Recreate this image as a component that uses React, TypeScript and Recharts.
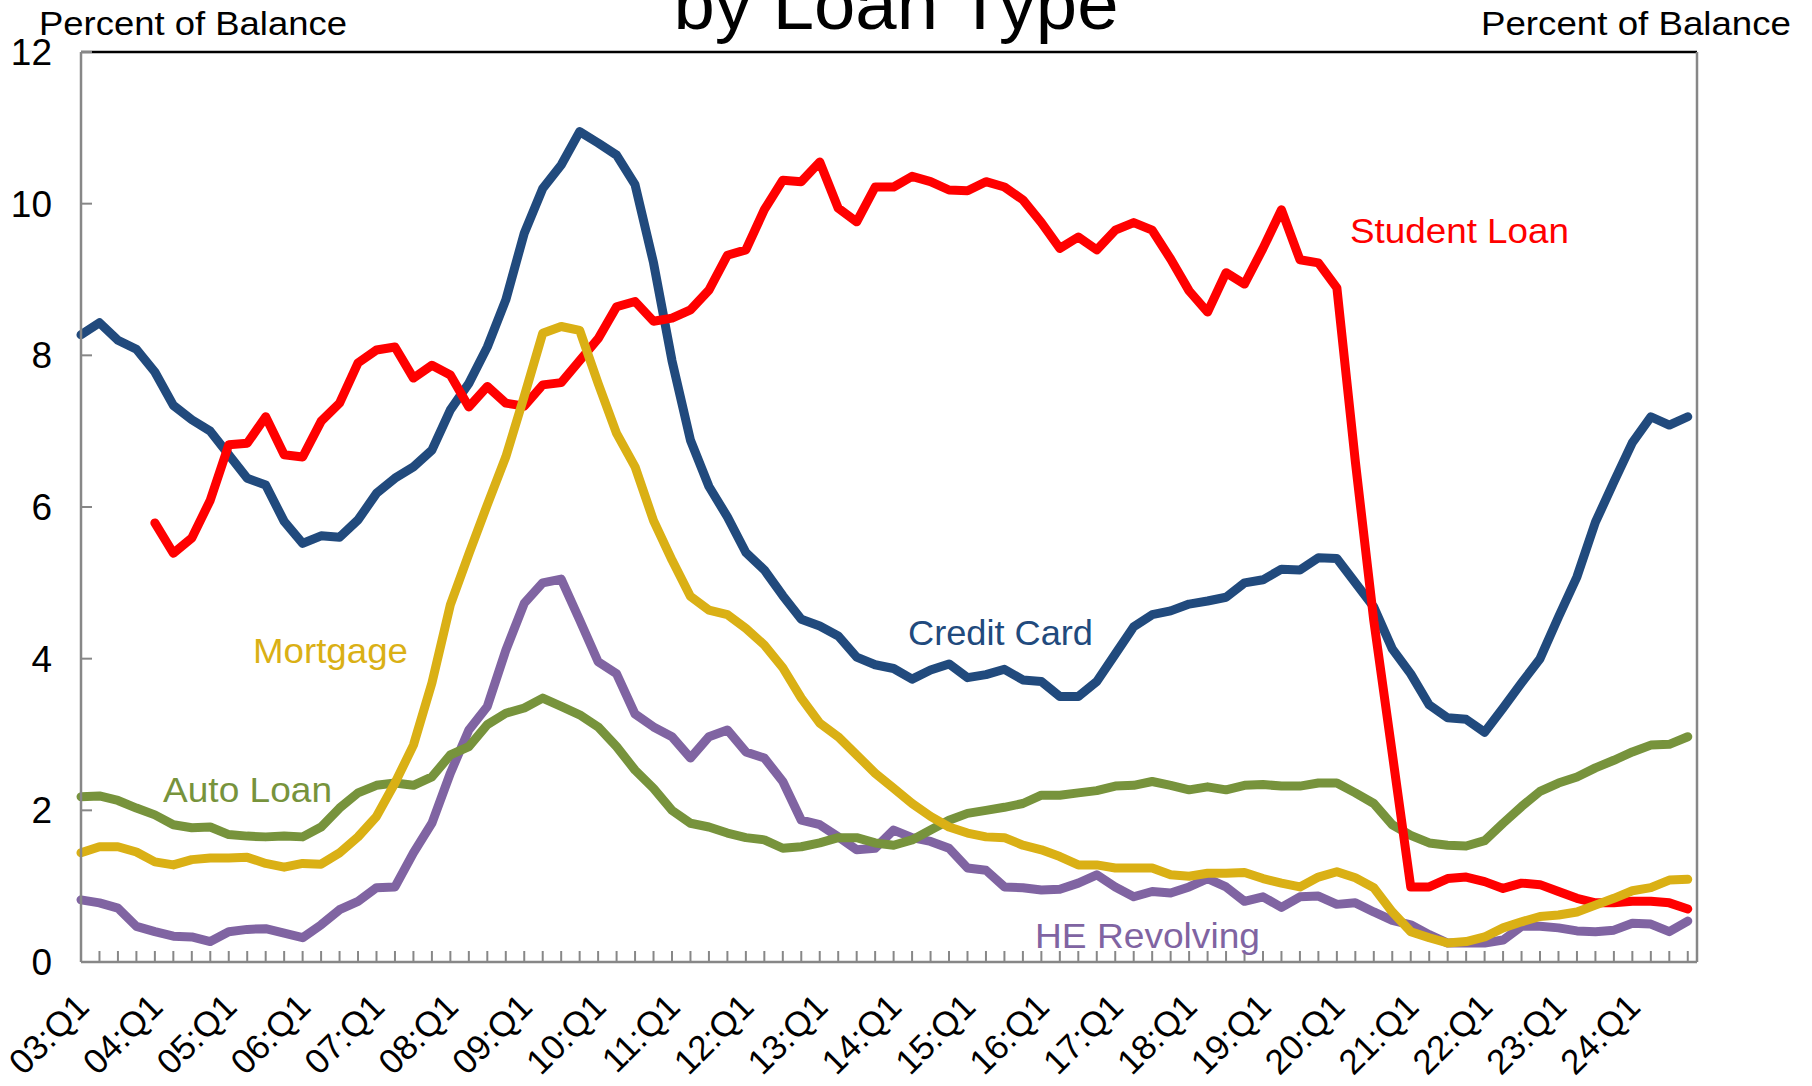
import React from 'react';
import { LineChart, Line, XAxis, YAxis, ReferenceLine } from 'recharts';

const W = 1812;
const H = 1086;
const PLOT_LEFT = 81;
const PLOT_RIGHT = 1697;
const PLOT_TOP = 52;
const PLOT_BOTTOM = 962;
const Y_AXIS_W = 60;
const X_AXIS_H = 100;
const FONT = '"Liberation Sans", Arial, Helvetica, sans-serif';
const AXIS_GRAY = '#878787';

const years = ['03', '04', '05', '06', '07', '08', '09', '10', '11', '12', '13', '14',
  '15', '16', '17', '18', '19', '20', '21', '22', '23', '24'];
const quarterLabels = years.flatMap((y) => [`${y}:Q1`, `${y}:Q2`, `${y}:Q3`, `${y}:Q4`]);

const creditCard = [
  8.27, 8.43, 8.2, 8.08, 7.78, 7.34, 7.15, 7.0, 6.69, 6.38,
  6.29, 5.81, 5.52, 5.62, 5.6, 5.83, 6.18, 6.38, 6.53, 6.75,
  7.28, 7.63, 8.11, 8.73, 9.61, 10.2, 10.51, 10.95, 10.8, 10.64,
  10.25, 9.22, 7.93, 6.88, 6.27, 5.87, 5.4, 5.17, 4.83, 4.52,
  4.43, 4.3, 4.02, 3.92, 3.87, 3.73, 3.85, 3.93, 3.75, 3.79,
  3.86, 3.72, 3.7, 3.5, 3.5, 3.7, 4.06, 4.42, 4.58, 4.63,
  4.72, 4.76, 4.81, 5.0, 5.04, 5.18, 5.17, 5.33, 5.32, 5.0,
  4.68, 4.13, 3.8, 3.39, 3.22, 3.2, 3.03, 3.35, 3.68, 4.0,
  4.55, 5.08, 5.8, 6.33, 6.85, 7.19, 7.08, 7.19,
];

const studentLoan = [
  null, null, null, null, 5.79, 5.39, 5.59, 6.09, 6.82, 6.84,
  7.19, 6.69, 6.66, 7.13, 7.37, 7.9, 8.07, 8.11, 7.7, 7.87,
  7.74, 7.32, 7.59, 7.37, 7.33, 7.61, 7.64, 7.93, 8.22, 8.64,
  8.71, 8.45, 8.49, 8.6, 8.86, 9.32, 9.39, 9.92, 10.31, 10.29,
  10.55, 9.94, 9.76, 10.22, 10.22, 10.36, 10.29, 10.18, 10.17, 10.29,
  10.22, 10.05, 9.75, 9.41, 9.56, 9.39, 9.65, 9.75, 9.65, 9.27,
  8.85, 8.57, 9.09, 8.94, 9.41, 9.92, 9.26, 9.22, 8.89, 6.6,
  4.5, 2.75, 0.99, 0.99, 1.1, 1.12, 1.06, 0.97, 1.04, 1.02,
  0.93, 0.84, 0.78, 0.78, 0.8, 0.8, 0.78, 0.7,
];

const mortgage = [
  1.44, 1.52, 1.52, 1.45, 1.32, 1.28, 1.35, 1.37, 1.37, 1.38,
  1.3, 1.25, 1.3, 1.29, 1.44, 1.65, 1.92, 2.36, 2.86, 3.68,
  4.71, 5.38, 6.03, 6.66, 7.46, 8.29, 8.38, 8.33, 7.63, 6.97,
  6.53, 5.82, 5.3, 4.82, 4.64, 4.58, 4.4, 4.18, 3.88, 3.48,
  3.15, 2.97, 2.73, 2.49, 2.29, 2.09, 1.92, 1.78, 1.7, 1.65,
  1.64, 1.54, 1.48, 1.39, 1.28, 1.28, 1.24, 1.24, 1.24, 1.15,
  1.13, 1.17, 1.17, 1.18, 1.1, 1.04, 0.99, 1.12, 1.19, 1.11,
  0.98, 0.66, 0.4, 0.32, 0.25, 0.27, 0.33, 0.45, 0.53, 0.6,
  0.62, 0.66, 0.75, 0.84, 0.94, 0.98, 1.08, 1.09,
];

const autoLoan = [
  2.18, 2.19, 2.13, 2.03, 1.94, 1.81, 1.77, 1.78, 1.68, 1.66,
  1.65, 1.66, 1.65, 1.78, 2.03, 2.23, 2.33, 2.36, 2.33, 2.44,
  2.73, 2.84, 3.13, 3.28, 3.35, 3.48, 3.37, 3.26, 3.1, 2.84,
  2.53, 2.29, 2.0, 1.83, 1.78, 1.7, 1.64, 1.61, 1.5, 1.52,
  1.57, 1.64, 1.64, 1.57, 1.54, 1.61, 1.74, 1.87, 1.96, 2.0,
  2.04, 2.09, 2.2, 2.2, 2.23, 2.26, 2.32, 2.33, 2.38, 2.33,
  2.27, 2.31, 2.27, 2.33, 2.34, 2.32, 2.32, 2.36, 2.36, 2.23,
  2.09, 1.81, 1.67, 1.57, 1.54, 1.53, 1.6, 1.83, 2.05, 2.25,
  2.36, 2.44, 2.56, 2.66, 2.77, 2.86, 2.87, 2.97,
];

const heRevolving = [
  0.82, 0.78, 0.71, 0.47, 0.4, 0.34, 0.33, 0.27, 0.4, 0.43,
  0.44, 0.38, 0.32, 0.49, 0.69, 0.8, 0.98, 0.99, 1.44, 1.83,
  2.49, 3.06, 3.37, 4.11, 4.73, 5.0, 5.05, 4.51, 3.96, 3.8,
  3.27, 3.1, 2.97, 2.69, 2.97, 3.06, 2.77, 2.69, 2.38, 1.87,
  1.81, 1.65, 1.48, 1.5, 1.74, 1.64, 1.59, 1.5, 1.24, 1.21,
  0.99, 0.98, 0.95, 0.96, 1.04, 1.15, 0.99, 0.86, 0.93, 0.91,
  0.99, 1.1, 0.99, 0.8, 0.86, 0.72, 0.86, 0.87, 0.76, 0.78,
  0.66, 0.55, 0.49, 0.36, 0.25, 0.25, 0.25, 0.29, 0.47, 0.47,
  0.45, 0.41, 0.4, 0.42, 0.51, 0.5, 0.4, 0.54,
];

const yTicks = [0, 2, 4, 6, 8, 10, 12];
const xTicks = quarterLabels.map((_, i) => i);

const data = quarterLabels.map((q, i) => ({
  idx: i,
  quarter: q,
  creditCard: creditCard[i],
  studentLoan: studentLoan[i],
  mortgage: mortgage[i],
  autoLoan: autoLoan[i],
  heRevolving: heRevolving[i],
}));

const XTick = (props: any) => {
  const { x, payload } = props;
  const i = payload.value as number;
  return (
    <g>
      {i > 0 && (
        <line x1={x} x2={x} y1={PLOT_BOTTOM} y2={PLOT_BOTTOM - 11} stroke={AXIS_GRAY} strokeWidth={2} />
      )}
      {i % 4 === 0 && (
        <text
          transform={`translate(${x + 10},${PLOT_BOTTOM + 47}) rotate(-45)`}
          textAnchor="end"
          fontSize={35}
          fontFamily={FONT}
          fill="#000"
        >
          {quarterLabels[i]}
        </text>
      )}
    </g>
  );
};

const LeftTick = (props: any) => {
  const { y, payload } = props;
  return (
    <g>
      <line x1={PLOT_LEFT} x2={PLOT_LEFT + 11} y1={y} y2={y} stroke={AXIS_GRAY} strokeWidth={2} />
      <text x={52} y={y + 13} textAnchor="end" fontSize={37} fontFamily={FONT} fill="#000">
        {payload.value}
      </text>
    </g>
  );
};

const RightTick = (props: any) => {
  const { y, payload } = props;
  return (
    <g>
      <line x1={PLOT_RIGHT - 11} x2={PLOT_RIGHT} y1={y} y2={y} stroke={AXIS_GRAY} strokeWidth={2} />
      <text x={1730} y={y + 13} textAnchor="start" fontSize={37} fontFamily={FONT} fill="#000">
        {payload.value}
      </text>
    </g>
  );
};

const seriesLabels = [
  { text: 'Student Loan', x: 1350, y: 243, len: 219, color: '#FF0000' },
  { text: 'Credit Card', x: 908, y: 645, len: 185, color: '#214A7D' },
  { text: 'Mortgage', x: 253, y: 663, len: 155, color: '#DAB015' },
  { text: 'Auto Loan', x: 163, y: 802, len: 169, color: '#77933C' },
  { text: 'HE Revolving', x: 1035, y: 948, len: 225, color: '#8064A2' },
];

export default function App() {
  const lineProps = {
    type: 'linear' as const,
    dot: false,
    strokeWidth: 9,
    strokeLinejoin: 'round' as const,
    strokeLinecap: 'round' as const,
    isAnimationActive: false,
    yAxisId: 'left',
  };
  return (
    <div style={{ position: 'absolute', left: 0, top: 0, width: W, height: H, background: '#fff' }}>
      <LineChart
        width={W}
        height={H}
        data={data}
        margin={{
          top: PLOT_TOP,
          left: PLOT_LEFT - Y_AXIS_W,
          right: W - PLOT_RIGHT - Y_AXIS_W,
          bottom: H - PLOT_BOTTOM - X_AXIS_H,
        }}
      >
        <ReferenceLine yAxisId="left" y={12} stroke="#000" strokeWidth={2.5} />
        <XAxis
          dataKey="idx"
          type="number"
          domain={[0, 87.5]}
          ticks={xTicks}
          interval={0}
          height={X_AXIS_H}
          tickLine={false}
          axisLine={{ stroke: AXIS_GRAY, strokeWidth: 2.5 }}
          tick={XTick}
        />
        <YAxis
          yAxisId="left"
          orientation="left"
          type="number"
          domain={[0, 12]}
          ticks={yTicks}
          interval={0}
          width={Y_AXIS_W}
          tickLine={false}
          axisLine={{ stroke: AXIS_GRAY, strokeWidth: 2.5 }}
          tick={LeftTick}
        />
        <YAxis
          yAxisId="right"
          orientation="right"
          type="number"
          domain={[0, 12]}
          ticks={yTicks}
          interval={0}
          width={Y_AXIS_W}
          tickLine={false}
          axisLine={{ stroke: AXIS_GRAY, strokeWidth: 2.5 }}
          tick={RightTick}
        />
        <Line {...lineProps} dataKey="heRevolving" name="HE Revolving" stroke="#8064A2" />
        <Line {...lineProps} dataKey="autoLoan" name="Auto Loan" stroke="#77933C" />
        <Line {...lineProps} dataKey="creditCard" name="Credit Card" stroke="#214A7D" />
        <Line {...lineProps} dataKey="studentLoan" name="Student Loan" stroke="#FF0000" />
        <Line {...lineProps} dataKey="mortgage" name="Mortgage" stroke="#DAB015" />
      </LineChart>
      <svg
        width={W}
        height={H}
        style={{ position: 'absolute', left: 0, top: 0, pointerEvents: 'none' }}
      >
        <text x={896} y={29} textAnchor="middle" fontSize={72} fontFamily={FONT} fill="#000" textLength={445} lengthAdjust="spacingAndGlyphs">
          by Loan Type
        </text>
        <text x={39} y={35} fontSize={33} fontFamily={FONT} fill="#000" textLength={308} lengthAdjust="spacingAndGlyphs">
          Percent of Balance
        </text>
        <text x={1791} y={35} textAnchor="end" fontSize={33} fontFamily={FONT} fill="#000" textLength={310} lengthAdjust="spacingAndGlyphs">
          Percent of Balance
        </text>
        {seriesLabels.map((l) => (
          <text key={l.text} x={l.x} y={l.y} fontSize={35} fontFamily={FONT} fill={l.color} textLength={l.len} lengthAdjust="spacingAndGlyphs">
            {l.text}
          </text>
        ))}
      </svg>
    </div>
  );
}
